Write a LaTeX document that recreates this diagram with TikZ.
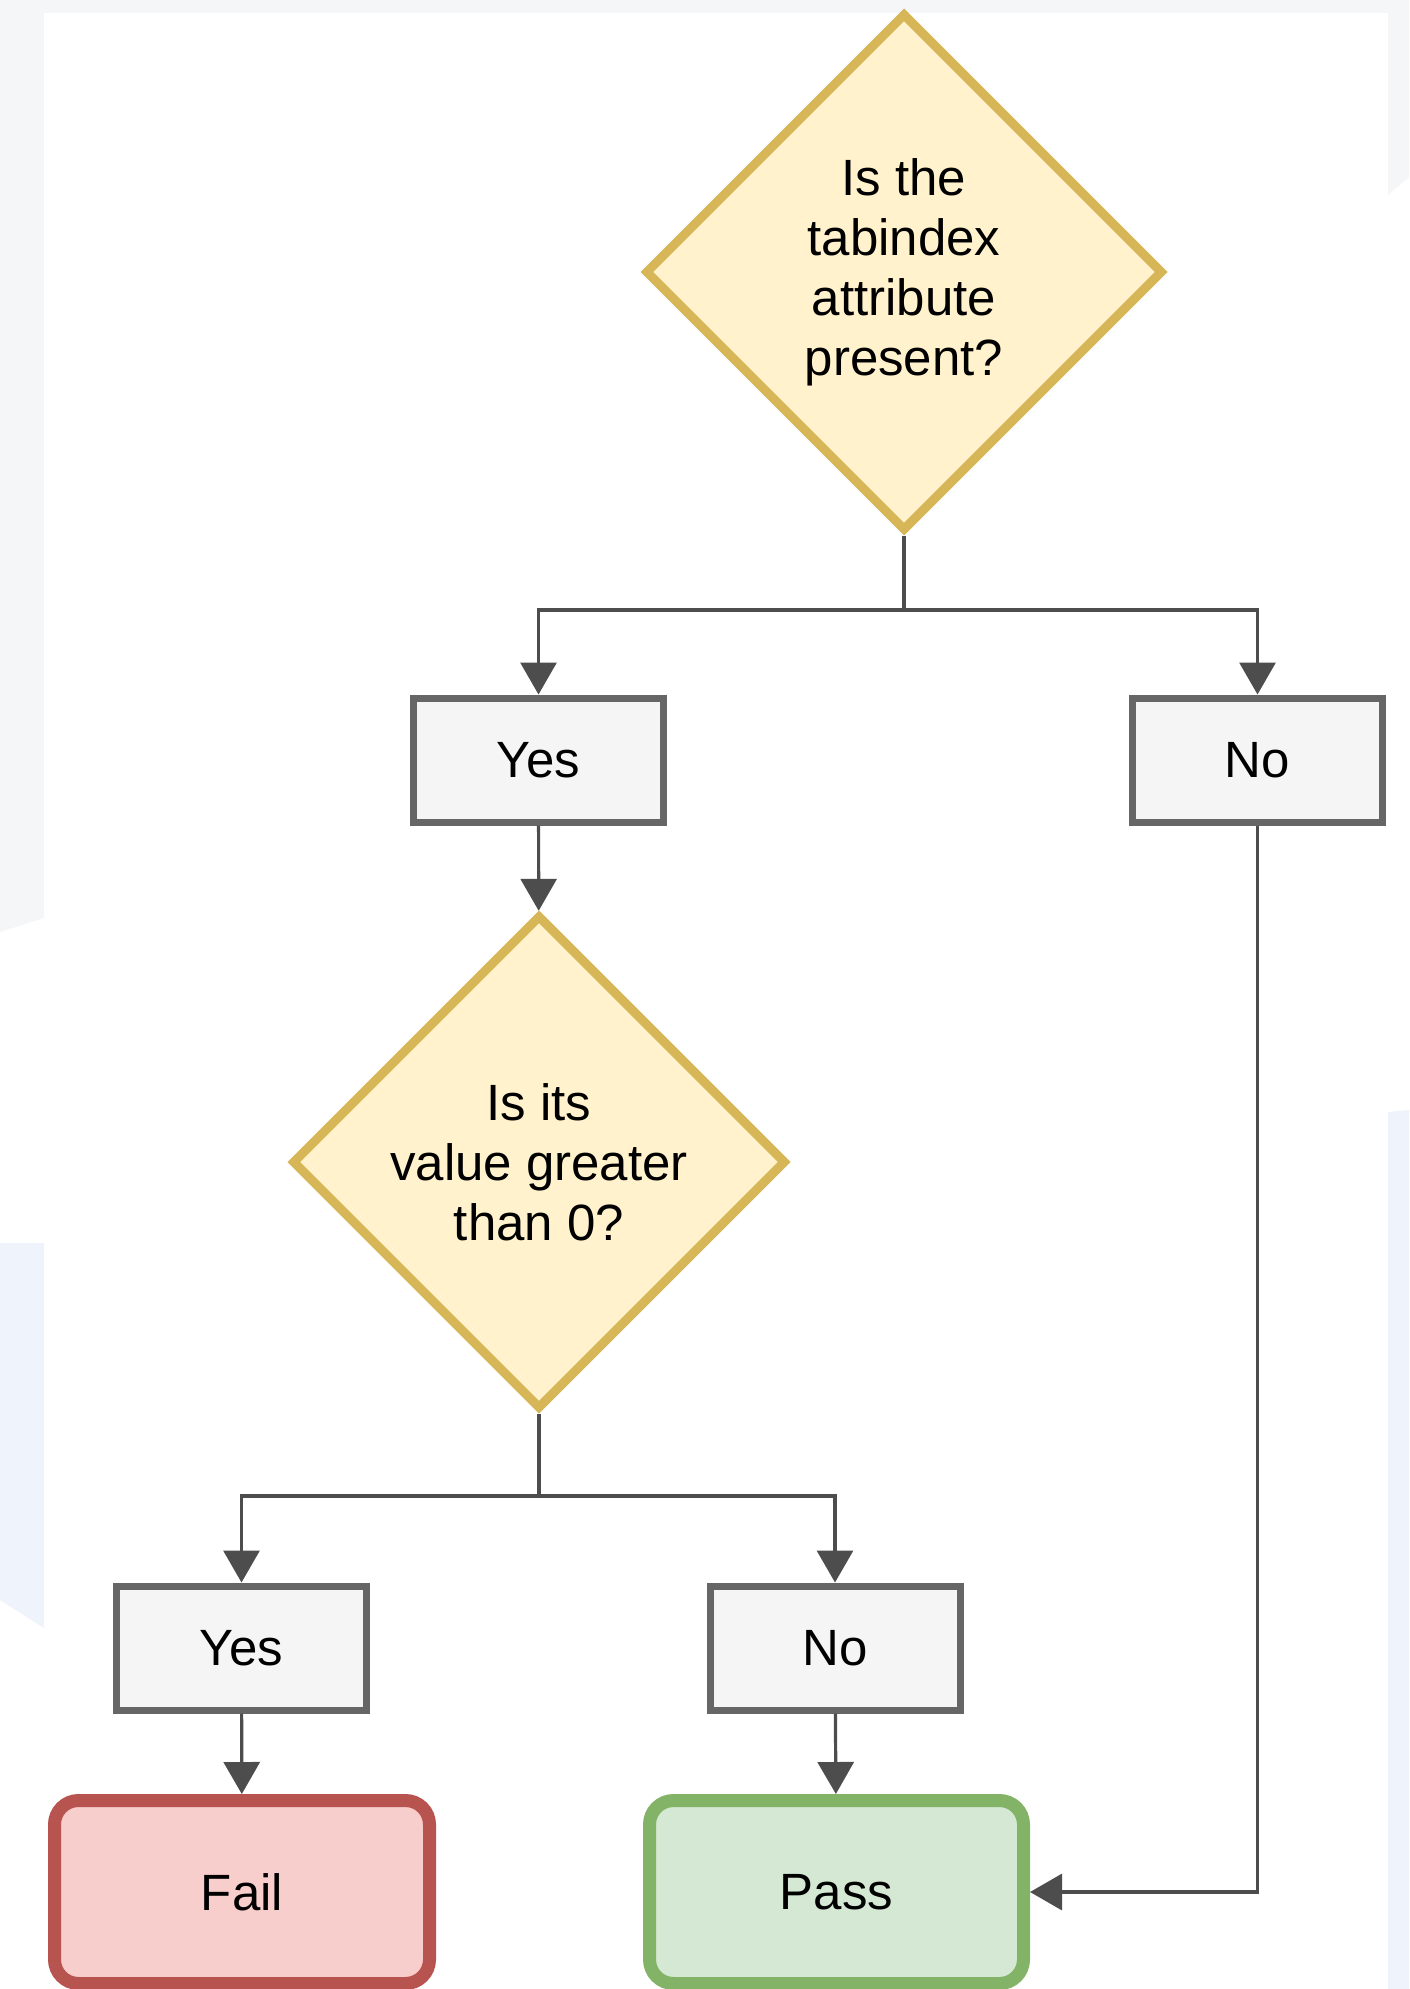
\documentclass[tikz,border=0pt]{standalone}
\usepackage{fontspec}
\setmainfont{Liberation Sans}
\usepackage{xcolor}
\definecolor{DecFill}{HTML}{FFF2CC}
\definecolor{DecLine}{HTML}{D6B656}
\definecolor{BoxFill}{HTML}{F5F5F5}
\definecolor{BoxLine}{HTML}{666666}
\definecolor{FailFill}{HTML}{F8CECC}
\definecolor{FailLine}{HTML}{B85450}
\definecolor{PassFill}{HTML}{D5E8D4}
\definecolor{PassLine}{HTML}{82B366}
\definecolor{Fleche}{HTML}{4D4D4D}
\definecolor{FondGris}{HTML}{F5F6F8}
\definecolor{FondBleu}{HTML}{EFF3FB}
\usetikzlibrary{arrows.meta,shapes.geometric}

\begin{document}
\begin{tikzpicture}[x=0.5pt, y=-0.5pt,
		every node/.style={font=\fontsize{25.5}{30}\selectfont, align=center, inner sep=0pt},
		decision/.style={diamond, aspect=1, draw=DecLine, fill=DecFill, line width=4.5pt, minimum width=259pt, minimum height=259pt},
		reponse/.style={rectangle, draw=BoxLine, fill=BoxFill, line width=3.5pt, minimum width=125pt, minimum height=62pt},
		echec/.style={rectangle, rounded corners=12pt, draw=FailLine, fill=FailFill, line width=6.5pt, minimum width=187.5pt, minimum height=91.5pt},
		succes/.style={rectangle, rounded corners=12pt, draw=PassLine, fill=PassFill, line width=6.5pt, minimum width=187pt, minimum height=91.5pt},
		ligne/.style={draw=Fleche, line width=1.6pt},
		fleche/.style={ligne, -{Triangle[width=18pt, length=16pt]}}]
		\useasboundingbox (0,0) rectangle (1409,1989);

		% Fond de la capture
		\fill[white] (0,0) rectangle (1409,1989);
		\fill[FondGris] (0,0) rectangle (1409,13);
		\fill[FondGris] (0,0) -- (44,0) -- (44,918) -- (0,932) -- cycle;
		\fill[FondBleu] (0,1243) -- (44,1243) -- (44,1628) -- (0,1600) -- cycle;
		\fill[FondGris] (1388,0) -- (1409,0) -- (1409,177) -- (1388,195) -- cycle;
		\fill[FondBleu] (1388,1112) -- (1409,1110) -- (1409,1989) -- (1388,1989) -- cycle;
		\fill[white] (44,13) rectangle (1388,1989);

		% Questions et reponses
		\node[decision] (q1) at (904,272) {Is the\\tabindex\\attribute\\present?};
		\node[reponse] (oui1) at (538.5,760) {Yes};
		\node[reponse] (non1) at (1257.5,760) {No};
		\node[decision, minimum width=247pt, minimum height=247pt] (q2) at (539,1162) {Is its\\value greater\\than 0?};
		\node[reponse] (oui2) at (241.5,1648) {Yes};
		\node[reponse] (non2) at (835,1648) {No};
		\node[echec] (fail) at (242,1892) {Fail};
		\node[succes] (pass) at (836.5,1892) {Pass};

		% Branchements
		\coordinate (b1) at (904,610);
		\coordinate (b2) at (539,1496);
		\draw[ligne] (q1) -- (b1);
		\draw[fleche] (b1) -| (oui1);
		\draw[fleche] (b1) -| (non1);
		\draw[fleche] (oui1) -- (q2);
		\draw[ligne] (q2) -- (b2);
		\draw[fleche] (b2) -| (oui2);
		\draw[fleche] (b2) -| (non2);
		\draw[fleche] (oui2) -- (fail);
		\draw[fleche] (non2) -- (pass);
		\draw[fleche] (non1) |- (pass);
	\end{tikzpicture}
\end{document}
